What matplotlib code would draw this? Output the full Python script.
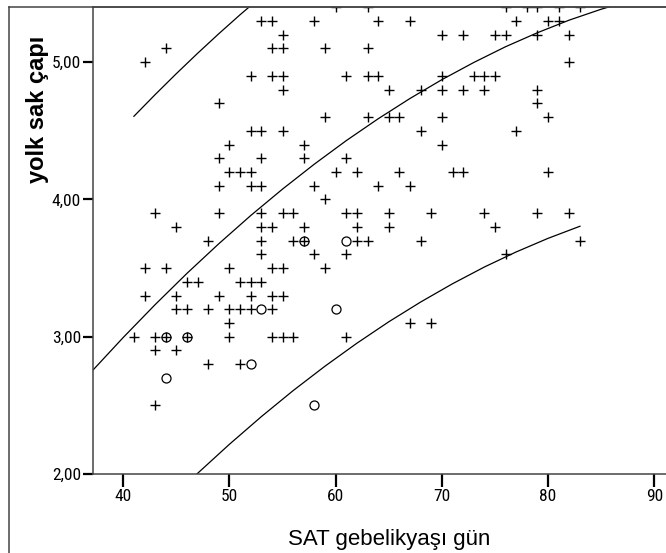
import matplotlib
matplotlib.use('Agg')
import matplotlib.pyplot as plt
from matplotlib.lines import Line2D

# scatter points (+)
sat_gun = [42, 44, 49, 52, 54, 53, 54, 54, 52, 53, 50, 49, 53, 50, 51, 52, 49, 52, 53,
           43, 49, 53, 45, 53, 54, 48, 53,
           58, 64, 67, 55, 70, 72, 55, 59, 63, 55, 61, 63, 64, 70,
           55, 65, 68, 70, 72, 59, 63, 65, 66, 70, 55, 68, 57, 70, 57, 61,
           60, 62, 66, 71, 72, 58, 64, 67, 59, 55, 56, 61, 62, 65, 69,
           57, 62, 65, 56, 57, 62, 63, 68,
           60, 63, 76, 78, 79, 81, 83,
           77, 80, 81, 75, 76, 79, 82, 82, 73, 74, 75, 74, 79, 79, 80, 77, 80,
           74, 79, 82, 75, 83,
           53, 42, 44, 50, 54, 46, 47, 51, 52, 53, 42, 45, 49, 52, 54,
           45, 46, 48, 50, 51, 52, 54, 50, 41, 43, 44, 46, 50, 54,
           43, 45, 48, 51, 43,
           58, 61, 55, 59, 55, 55, 56, 61, 67, 69, 76]
yolk_sak = [5.0, 5.1, 4.7, 4.9, 4.9, 5.3, 5.3, 5.1, 4.5, 4.5, 4.4, 4.3, 4.3, 4.2, 4.2, 4.2, 4.1, 4.1, 4.1,
            3.9, 3.9, 3.9, 3.8, 3.8, 3.8, 3.7, 3.7,
            5.3, 5.3, 5.3, 5.2, 5.2, 5.2, 5.1, 5.1, 5.1, 4.9, 4.9, 4.9, 4.9, 4.9,
            4.8, 4.8, 4.8, 4.8, 4.8, 4.6, 4.6, 4.6, 4.6, 4.6, 4.5, 4.5, 4.4, 4.4, 4.3, 4.3,
            4.2, 4.2, 4.2, 4.2, 4.2, 4.1, 4.1, 4.1, 4.0, 3.9, 3.9, 3.9, 3.9, 3.9, 3.9,
            3.8, 3.8, 3.8, 3.7, 3.7, 3.7, 3.7, 3.7,
            5.4, 5.4, 5.4, 5.4, 5.4, 5.4, 5.4,
            5.3, 5.3, 5.3, 5.2, 5.2, 5.2, 5.2, 5.0, 4.9, 4.9, 4.9, 4.8, 4.8, 4.7, 4.6, 4.5, 4.2,
            3.9, 3.9, 3.9, 3.8, 3.7,
            3.6, 3.5, 3.5, 3.5, 3.5, 3.4, 3.4, 3.4, 3.4, 3.4, 3.3, 3.3, 3.3, 3.3, 3.3,
            3.2, 3.2, 3.2, 3.2, 3.2, 3.2, 3.2, 3.1, 3.0, 3.0, 3.0, 3.0, 3.0, 3.0,
            2.9, 2.9, 2.8, 2.8, 2.5,
            3.6, 3.6, 3.5, 3.5, 3.3, 3.0, 3.0, 3.0, 3.1, 3.1, 3.6]

# second group (open circles)
circ_gun = [44, 46, 57, 53, 52, 44, 60, 58, 61]
circ_sak = [3.0, 3.0, 3.7, 3.2, 2.8, 2.7, 3.2, 2.5, 3.7]

# quadratic fit line and prediction bounds
fit_x = [37, 40, 43, 46, 49, 52, 55, 58, 61, 64, 67, 70, 73, 76, 79, 82, 85, 88]
fit_y = [2.745, 2.995, 3.234, 3.462, 3.678, 3.883, 4.076, 4.258, 4.429, 4.588,
         4.736, 4.873, 4.998, 5.113, 5.215, 5.307, 5.386, 5.455]
upper_x = [41, 43, 45, 47, 49, 51, 53]
upper_y = [4.606, 4.764, 4.917, 5.065, 5.208, 5.346, 5.478]
lower_x = [41, 44, 47, 50, 53, 56, 59, 62, 65, 68, 71, 74, 77, 80, 83]
lower_y = [1.55, 1.78, 2.005, 2.217, 2.418, 2.608, 2.786, 2.953, 3.109, 3.253,
           3.386, 3.508, 3.618, 3.717, 3.805]

x_ticks = [40, 50, 60, 70, 80, 90]
y_ticks = [2, 3, 4, 5]
y_labels = ['2,00', '3,00', '4,00', '5,00']

W, H = 666, 553
fig = plt.figure(figsize=(W / 100, H / 100), dpi=100)
ax = fig.add_axes([92.7 / W, 1 - 474 / H, 1 - 92.7 / W, (474 - 7.3) / H])

ax.plot(fit_x, fit_y, color='black', lw=0.9)
ax.plot(upper_x, upper_y, color='black', lw=0.9)
ax.plot(lower_x, lower_y, color='black', lw=0.9)
ax.plot(sat_gun, yolk_sak, ls='none', marker='+', ms=7.5, mew=1.0, color='black')
ax.plot(circ_gun, circ_sak, ls='none', marker='o', ms=6.5, mew=0.9,
        mfc='none', mec='black')

ax.set_xlim(37.12, 91.1)
ax.set_ylim(2.0, 5.40)

narrow = ['Liberation Sans Narrow', 'Roboto Condensed', 'Liberation Sans']
ax.set_xticks(x_ticks)
ax.set_xticklabels([str(t) for t in x_ticks], family=narrow, fontsize=12.5)
ax.set_yticks(y_ticks)
ax.set_yticklabels(y_labels, family=narrow, fontsize=12.5)
ax.tick_params(axis='x', direction='out', length=9, width=1.6, pad=2, color='black')
ax.tick_params(axis='y', direction='out', length=7, width=1.6, pad=1.5, color='black')

for s in ['left', 'bottom', 'top']:
    ax.spines[s].set_color('#444444')
    ax.spines[s].set_linewidth(1.1)
ax.spines['right'].set_visible(False)

fig.text(389 / W, 1 - 540 / H, 'SAT gebelikyaşı gün', ha='center', va='center',
         family=['Liberation Sans', 'DejaVu Sans'], fontsize=16)
fig.text(37.5 / W, 1 - 109 / H, 'yolk sak çapı', ha='center', va='center',
         rotation=90, family=['Liberation Sans', 'DejaVu Sans'], fontsize=17,
         fontweight='bold')

# outer frame (left and top edges visible)
fig.add_artist(Line2D([9 / W, 9 / W], [0, 1 - 7.3 / H], color='#444444', lw=1.1,
                      transform=fig.transFigure))
fig.add_artist(Line2D([9 / W, 1], [1 - 7.3 / H, 1 - 7.3 / H], color='#444444', lw=1.1,
                      transform=fig.transFigure))

fig.savefig('out.png', dpi=100)
